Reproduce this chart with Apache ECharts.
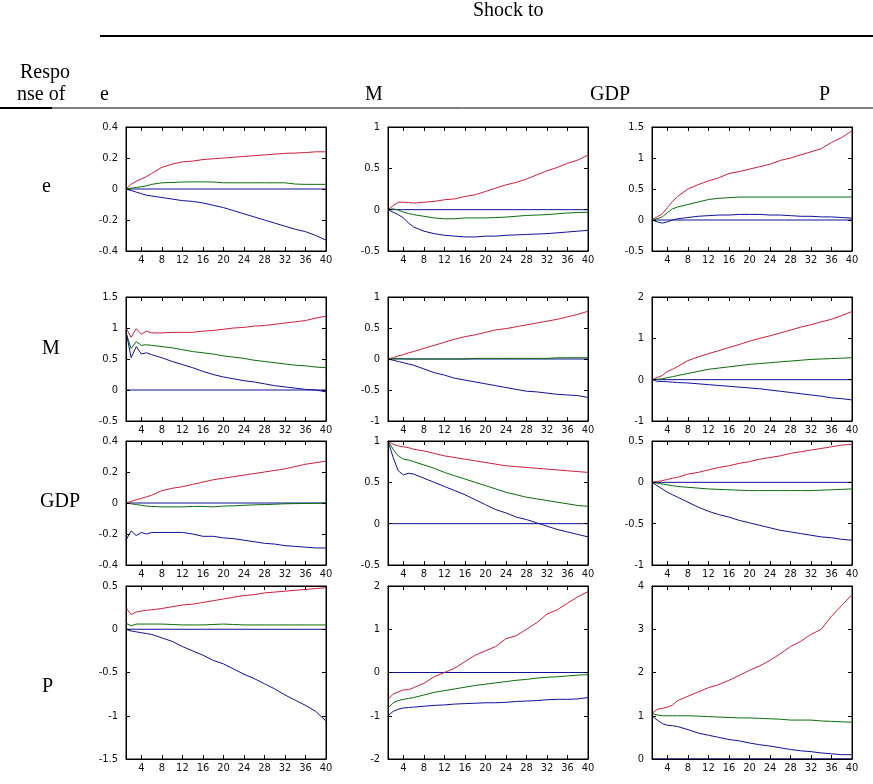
<!DOCTYPE html>
<html><head><meta charset="utf-8">
<script src="https://cdn.jsdelivr.net/npm/echarts@6/dist/echarts.min.js"></script>
<style>html,body{margin:0;padding:0;background:#fff}#c{width:873px;height:784px}</style>
</head><body><div id="c"></div>
<script>
// horizon periods shared by every series
const periods = [1,2,3,4,5,6,8,10,12,14,16,18,20,22,24,26,28,30,32,34,36,38,40];
const xTicks = [4,8,12,16,20,24,28,32,36,40];
const shockNames = ["e","M","GDP","P"];
const responseNames = ["e","M","GDP","P"];

// y ranges per panel [min,max,interval]
const yRanges = [
  [[-0.4,0.4,0.2],[-0.5,1,0.5],[-0.5,1.5,0.5]],
  [[-0.5,1.5,0.5],[-1,1,0.5],[-1,2,1]],
  [[-0.4,0.4,0.2],[-0.5,1,0.5],[-1,0.5,0.5]],
  [[-1.5,0.5,0.5],[-2,2,1],[0,4,1]]
];

// row 1: response of e
const e_e_upper = [0,.03,.05,.065,.08,.10,.14,.16,.175,.18,.19,.195,.2,.205,.21,.215,.22,.225,.23,.232,.235,.24,.24];
const e_e_mid   = [0,.005,.01,.015,.02,.03,.04,.042,.045,.046,.046,.045,.04,.04,.04,.04,.04,.04,.04,.032,.03,.03,.03];
const e_e_lower = [0,-.01,-.02,-.03,-.04,-.045,-.055,-.065,-.075,-.08,-.09,-.105,-.12,-.14,-.16,-.18,-.2,-.22,-.24,-.26,-.275,-.3,-.33];
const e_M_upper = [0,.05,.09,.09,.085,.08,.09,.1,.12,.13,.16,.18,.22,.26,.3,.33,.37,.42,.47,.51,.56,.6,.66];
const e_M_mid   = [0,.01,-.005,-.03,-.045,-.06,-.08,-.1,-.11,-.11,-.1,-.1,-.1,-.095,-.09,-.08,-.07,-.065,-.06,-.05,-.04,-.035,-.03];
const e_M_lower = [0,-.03,-.06,-.1,-.16,-.21,-.26,-.29,-.31,-.32,-.33,-.33,-.32,-.32,-.31,-.305,-.3,-.295,-.29,-.28,-.27,-.26,-.25];
const e_GDP_upper = [0,.05,.1,.2,.3,.38,.5,.57,.63,.68,.75,.78,.82,.86,.9,.96,1.0,1.05,1.1,1.15,1.25,1.33,1.44];
const e_GDP_mid   = [0,.02,.05,.12,.18,.21,.25,.29,.33,.35,.36,.37,.37,.37,.37,.37,.37,.37,.37,.37,.37,.37,.37];
const e_GDP_lower = [0,-.03,-.05,-.03,0,.02,.04,.06,.07,.08,.08,.09,.09,.09,.08,.08,.07,.06,.06,.05,.05,.04,.03];
// row 2: response of M
const M_e_upper = [1.0,.85,.99,.9,.95,.92,.92,.93,.93,.93,.95,.96,.98,1.0,1.01,1.03,1.04,1.06,1.08,1.1,1.12,1.16,1.19];
const M_e_mid   = [.92,.67,.78,.72,.73,.72,.7,.68,.65,.62,.6,.58,.55,.53,.51,.48,.46,.44,.42,.4,.39,.37,.36];
const M_e_lower = [.95,.52,.7,.58,.6,.57,.52,.46,.41,.36,.3,.25,.21,.18,.15,.13,.1,.07,.05,.03,.01,0,-.03];
const M_M_upper = [0,.02,.05,.07,.1,.12,.17,.22,.27,.32,.36,.39,.43,.47,.49,.52,.55,.58,.61,.64,.68,.72,.77];
const M_M_mid   = [0,.005,.01,.005,0,0,0,0,0,0,0,.01,.01,.01,.01,.01,.01,.01,.01,.02,.02,.02,.02];
const M_M_lower = [0,-.02,-.04,-.06,-.08,-.1,-.16,-.22,-.26,-.31,-.34,-.37,-.4,-.43,-.46,-.49,-.52,-.53,-.55,-.57,-.58,-.59,-.62];
const M_GDP_upper = [0,.05,.1,.2,.25,.32,.46,.55,.63,.7,.78,.85,.93,1.0,1.06,1.13,1.2,1.27,1.33,1.4,1.46,1.55,1.65];
const M_GDP_mid   = [0,.01,.02,.05,.07,.1,.15,.2,.25,.28,.31,.34,.37,.39,.41,.43,.45,.47,.49,.5,.51,.52,.53];
const M_GDP_lower = [0,-.04,-.045,-.05,-.06,-.07,-.08,-.1,-.12,-.14,-.16,-.18,-.2,-.22,-.25,-.28,-.31,-.34,-.37,-.4,-.44,-.46,-.49];
// row 3: response of GDP
const GDP_e_upper = [0,.01,.02,.03,.04,.05,.08,.095,.105,.12,.135,.15,.16,.17,.18,.19,.2,.21,.22,.235,.25,.26,.27];
const GDP_e_mid   = [0,-.005,-.01,-.015,-.02,-.022,-.025,-.025,-.025,-.022,-.022,-.025,-.02,-.018,-.015,-.012,-.01,-.008,-.005,-.004,-.003,-.002,0];
const GDP_e_lower = [-.24,-.18,-.21,-.19,-.2,-.19,-.19,-.19,-.19,-.2,-.215,-.215,-.225,-.23,-.24,-.25,-.26,-.265,-.275,-.28,-.285,-.29,-.29];
const GDP_M_upper = [1,.96,.94,.93,.92,.9,.88,.85,.82,.8,.78,.76,.74,.72,.7,.69,.68,.67,.66,.65,.64,.63,.62];
const GDP_M_mid   = [1,.9,.82,.78,.77,.75,.71,.67,.62,.58,.54,.5,.46,.42,.38,.35,.32,.3,.28,.26,.24,.22,.21];
const GDP_M_lower = [1,.8,.64,.59,.61,.6,.55,.5,.45,.4,.35,.29,.23,.17,.13,.08,.05,.01,-.03,-.07,-.1,-.13,-.16];
const GDP_GDP_upper = [0,.01,.02,.035,.05,.06,.1,.12,.15,.18,.2,.23,.25,.28,.3,.32,.35,.37,.39,.41,.43,.45,.46];
const GDP_GDP_mid   = [0,-.01,-.02,-.03,-.04,-.05,-.06,-.07,-.08,-.085,-.09,-.095,-.1,-.1,-.1,-.1,-.1,-.1,-.1,-.095,-.09,-.085,-.08];
const GDP_GDP_lower = [0,-.04,-.08,-.12,-.15,-.18,-.24,-.3,-.35,-.39,-.42,-.46,-.49,-.52,-.55,-.58,-.6,-.62,-.64,-.66,-.67,-.69,-.7];
// row 4: response of P
const P_e_upper = [.25,.17,.2,.21,.22,.225,.24,.26,.28,.29,.31,.33,.35,.37,.39,.4,.42,.43,.44,.45,.46,.47,.48];
const P_e_mid   = [.07,.04,.06,.06,.06,.06,.06,.055,.05,.05,.05,.055,.06,.055,.05,.05,.05,.05,.05,.05,.05,.05,.05];
const P_e_lower = [0,-.02,-.03,-.04,-.05,-.06,-.1,-.14,-.2,-.25,-.3,-.36,-.4,-.46,-.52,-.57,-.63,-.69,-.76,-.82,-.88,-.95,-1.06];
const P_M_upper = [-.62,-.5,-.45,-.4,-.4,-.35,-.25,-.1,0,.1,.25,.4,.5,.6,.78,.85,1.0,1.15,1.35,1.45,1.6,1.75,1.87];
const P_M_mid   = [-.82,-.7,-.65,-.62,-.6,-.58,-.52,-.46,-.42,-.38,-.34,-.3,-.27,-.24,-.21,-.18,-.16,-.13,-.11,-.1,-.08,-.06,-.05];
const P_M_lower = [-1.0,-.9,-.85,-.82,-.81,-.8,-.78,-.76,-.75,-.73,-.72,-.71,-.7,-.7,-.69,-.67,-.66,-.65,-.63,-.62,-.62,-.61,-.58];
const P_GDP_upper = [1.05,1.15,1.17,1.2,1.25,1.35,1.45,1.55,1.65,1.72,1.82,1.93,2.05,2.15,2.28,2.43,2.6,2.72,2.88,3.0,3.3,3.55,3.8];
const P_GDP_mid   = [1.05,1.02,1.0,1.0,1.0,1.0,1.0,.99,.98,.97,.96,.95,.95,.94,.93,.92,.9,.9,.9,.88,.87,.86,.85];
const P_GDP_lower = [1.0,.9,.82,.78,.77,.75,.68,.6,.55,.5,.45,.42,.37,.33,.3,.26,.22,.19,.17,.14,.12,.1,.1];

const panels = [
  [[e_e_upper,e_e_mid,e_e_lower],[e_M_upper,e_M_mid,e_M_lower],[e_GDP_upper,e_GDP_mid,e_GDP_lower]],
  [[M_e_upper,M_e_mid,M_e_lower],[M_M_upper,M_M_mid,M_M_lower],[M_GDP_upper,M_GDP_mid,M_GDP_lower]],
  [[GDP_e_upper,GDP_e_mid,GDP_e_lower],[GDP_M_upper,GDP_M_mid,GDP_M_lower],[GDP_GDP_upper,GDP_GDP_mid,GDP_GDP_lower]],
  [[P_e_upper,P_e_mid,P_e_lower],[P_M_upper,P_M_mid,P_M_lower],[P_GDP_upper,P_GDP_mid,P_GDP_lower]]
];

// layout (px)
const colLeft = [126, 388, 652];
const plotW = 200;
const rowTop = [127, 297, 441, 586];
const rowH = [124, 124, 124, 173];
const lineColors = ['#cc1f3a', '#0a6e0a', '#10109a'];
const zeroColor = '#10109a';
const tickFont = "'DejaVu Sans Condensed', 'Liberation Sans Narrow', sans-serif";
const serif = "'Liberation Serif', 'Times New Roman', serif";

const grids = [], xAxes = [], yAxes = [], series = [];
let gi = 0;
for (let r = 0; r < 4; r++) {
  for (let c = 0; c < 3; c++) {
    const [ymin, ymax, yint] = yRanges[r][c];
    grids.push({left: colLeft[c], top: rowTop[r], width: plotW, height: rowH[r],
      show: true, borderColor: '#000', borderWidth: 1, backgroundColor: 'transparent'});
    const tickStyle = {show: true, inside: true, length: 4, lineStyle: {color: '#000', width: 1}};
    const axLine = {show: true, onZero: false, lineStyle: {color: '#000', width: 1}};
    xAxes.push({type: 'value', gridIndex: gi, min: 1, max: 40, position: 'bottom', z: 10,
      axisLine: axLine, splitLine: {show: false},
      axisTick: Object.assign({customValues: xTicks}, tickStyle),
      axisLabel: {customValues: xTicks, color: '#111', fontSize: 11, fontFamily: tickFont, margin: 4}});
    xAxes.push({type: 'value', gridIndex: gi, min: 1, max: 40, position: 'top', z: 10,
      axisLine: axLine, splitLine: {show: false},
      axisTick: Object.assign({customValues: xTicks}, tickStyle),
      axisLabel: {show: false}});
    yAxes.push({type: 'value', gridIndex: gi, min: ymin, max: ymax, interval: yint, position: 'left', z: 10,
      axisLine: axLine, splitLine: {show: false}, axisTick: tickStyle,
      axisLabel: {color: '#111', fontSize: 11, fontFamily: tickFont, margin: 8}});
    yAxes.push({type: 'value', gridIndex: gi, min: ymin, max: ymax, interval: yint, position: 'right', z: 10,
      axisLine: axLine, splitLine: {show: false}, axisTick: tickStyle,
      axisLabel: {show: false}});
    const xi = gi * 2, yi = gi * 2;
    series.push({type: 'line', xAxisIndex: xi, yAxisIndex: yi, data: [[1, 0], [40, 0]],
      symbol: 'none', silent: true, lineStyle: {color: zeroColor, width: 1}, z: 2});
    panels[r][c].forEach((arr, k) => {
      series.push({type: 'line', xAxisIndex: xi, yAxisIndex: yi,
        data: periods.map((p, i) => [p, arr[i]]), symbol: 'none', silent: true,
        lineStyle: {color: lineColors[k], width: 1}, z: 3});
    });
    gi++;
  }
}

const F = "20px " + serif;
const graphic = [
  {type: 'text', left: 473, top: 1, style: {text: 'Shock to', font: F, fill: '#000'}},
  {type: 'line', shape: {x1: 100, y1: 36, x2: 873, y2: 36}, style: {stroke: '#000', lineWidth: 2}},
  {type: 'text', left: 20, top: 63, style: {text: 'Respo', font: F, fill: '#000'}},
  {type: 'text', left: 17, top: 85, style: {text: 'nse of', font: F, fill: '#000'}},
  {type: 'line', shape: {x1: 0, y1: 108, x2: 52, y2: 108}, style: {stroke: '#000', lineWidth: 2}},
  {type: 'line', shape: {x1: 52, y1: 108, x2: 873, y2: 108}, style: {stroke: '#000', lineWidth: 1}},
];
const headerX = [100, 365, 590, 819];
shockNames.forEach((s, i) => graphic.push({type: 'text', left: headerX[i], top: 85,
  style: {text: s, font: F, fill: '#000'}}));
const rowLabelX = [42, 42, 40, 42];
const rowLabelY = [177, 339, 492, 677];
responseNames.forEach((s, i) => graphic.push({type: 'text', left: rowLabelX[i], top: rowLabelY[i],
  style: {text: s, font: F, fill: '#000'}}));

const chart = echarts.init(document.getElementById('c'), null, {renderer: 'canvas'});
chart.setOption({animation: false, backgroundColor: '#fff', grid: grids, xAxis: xAxes, yAxis: yAxes, series, graphic});
</script></body></html>
